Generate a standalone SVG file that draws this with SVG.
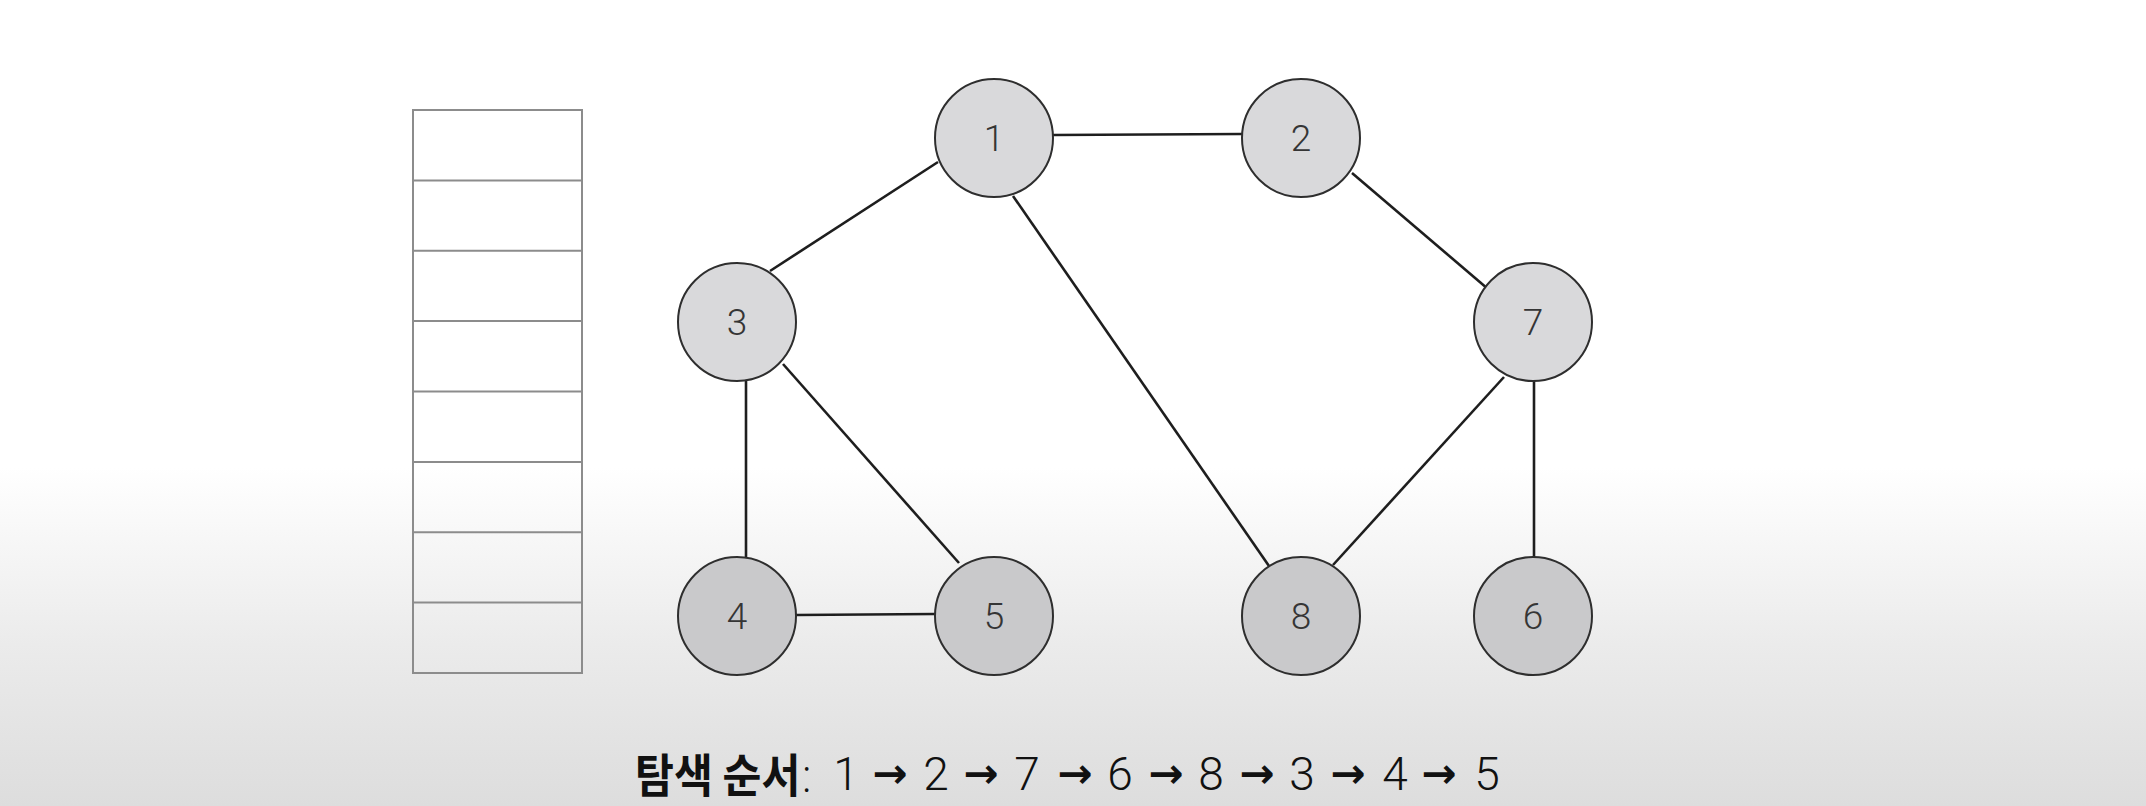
<svg xmlns="http://www.w3.org/2000/svg" width="2146" height="806" viewBox="0 0 2146 806">
<defs>
<linearGradient id="bg" x1="0" y1="0" x2="0" y2="1">
<stop offset="0" stop-color="#ffffff"/>
<stop offset="0.58" stop-color="#ffffff"/>
<stop offset="0.8" stop-color="#ebebeb"/>
<stop offset="1" stop-color="#dddddd"/>
</linearGradient>
<style>
.node{stroke:#2e2e2e;stroke-width:2}
.top{fill:#d9d9db}
.bot{fill:#c9c9cb}
.lbl{font-family:Roboto,"Liberation Sans",sans-serif;font-weight:300;font-size:37px;fill:#353535;text-anchor:middle}
.edge{stroke:#1e1e1e;stroke-width:2.6;fill:none}
.cell{fill:none;stroke:#8c8c8c;stroke-width:2}
</style>
</defs>
<rect width="2146" height="806" fill="url(#bg)"/>
<g id="stack">
<rect class="cell" x="413" y="110" width="169" height="563"/>
<path class="cell" d="M413 180.4H582M413 250.8H582M413 321.1H582M413 391.5H582M413 461.9H582M413 532.3H582M413 602.6H582"/>
</g>
<g id="edges">
<line class="edge" x1="1053" y1="135" x2="1242" y2="134" stroke-width="3"/>
<line class="edge" x1="938" y1="162" x2="770" y2="271"/>
<line class="edge" x1="1013" y1="196" x2="1269" y2="566"/>
<line class="edge" x1="1352" y1="173" x2="1488" y2="289"/>
<line class="edge" x1="746" y1="381" x2="746" y2="558"/>
<line class="edge" x1="783" y1="364" x2="959" y2="563"/>
<line class="edge" x1="1504" y1="377" x2="1333" y2="565"/>
<line class="edge" x1="1534" y1="381" x2="1534" y2="557"/>
<line class="edge" x1="796" y1="615" x2="935" y2="614"/>
</g>
<g id="n1"><circle class="node top" cx="994" cy="138" r="59"/><text class="lbl" x="994" y="151">1</text></g>
<g id="n2"><circle class="node top" cx="1301" cy="138" r="59"/><text class="lbl" x="1301" y="151">2</text></g>
<g id="n3"><circle class="node top" cx="737" cy="322" r="59"/><text class="lbl" x="737" y="335">3</text></g>
<g id="n7"><circle class="node top" cx="1533" cy="322" r="59"/><text class="lbl" x="1533" y="335">7</text></g>
<g id="n4"><circle class="node bot" cx="737" cy="616" r="59"/><text class="lbl" x="737" y="629">4</text></g>
<g id="n5"><circle class="node bot" cx="994" cy="616" r="59"/><text class="lbl" x="994" y="629">5</text></g>
<g id="n8"><circle class="node bot" cx="1301" cy="616" r="59"/><text class="lbl" x="1301" y="629">8</text></g>
<g id="n6"><circle class="node bot" cx="1533" cy="616" r="59"/><text class="lbl" x="1533" y="629">6</text></g>
<g id="order">
<text transform="translate(635,792) scale(0.92,1)" font-family="'Noto Sans CJK KR',sans-serif" font-weight="700" font-size="46" fill="#111">탐색 순서<tspan dx="2" font-family="Roboto,'Liberation Sans',sans-serif" font-weight="300" font-size="46">:</tspan></text>
<text y="790" font-family="Roboto,'Liberation Sans',sans-serif" font-weight="300" font-size="46" fill="#111" text-anchor="middle"><tspan x="846">1</tspan><tspan x="936">2</tspan><tspan x="1027">7</tspan><tspan x="1120">6</tspan><tspan x="1211">8</tspan><tspan x="1302">3</tspan><tspan x="1395">4</tspan><tspan x="1487">5</tspan></text>
<text y="788" font-family="'DejaVu Sans',sans-serif" font-weight="700" font-size="42" fill="#111" text-anchor="middle"><tspan x="890">→</tspan><tspan x="981">→</tspan><tspan x="1075">→</tspan><tspan x="1166">→</tspan><tspan x="1257">→</tspan><tspan x="1348">→</tspan><tspan x="1439">→</tspan></text>
</g>
</svg>
